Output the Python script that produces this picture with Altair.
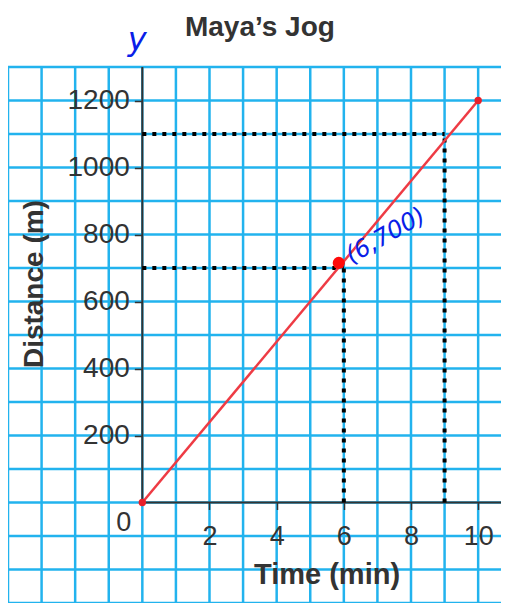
import altair as alt
import pandas as pd

# ---- data ----
time_min = [0, 10]
distance_m = [0, 1200]
mark_time = [5.85]
mark_dist = [715]
guide_h_x2 = [6, 9]
guide_h_y = [700, 1100]
grid_x = list(range(-4, 11))
grid_y = list(range(-300, 1400, 100))
x_ticks = [2, 4, 6, 8, 10]
y_ticks = [200, 400, 600, 800, 1000, 1200]

XDOM = [-4, 10.68]
YDOM = [-300, 1300]
W, H = 493, 536
PX_X = W / (XDOM[1] - XDOM[0])
PX_Y = H / (YDOM[1] - YDOM[0])
FONT = "Liberation Sans"
GRID = "#22b3ee"
INK = "#333333"

line_df = pd.DataFrame({"t": time_min, "d": distance_m})
mark_df = pd.DataFrame({"t": mark_time, "d": mark_dist})
gh = pd.DataFrame({"x": [0] * len(guide_h_x2), "x2": guide_h_x2, "y": guide_h_y})
gv = pd.DataFrame({"x": guide_h_x2, "y": [0] * len(guide_h_y), "y2": guide_h_y})
gx = pd.DataFrame({"v": grid_x})
gy = pd.DataFrame({"v": grid_y})

xs = alt.Scale(domain=XDOM, nice=False, zero=False)
ys = alt.Scale(domain=YDOM, nice=False, zero=False)

x_axis = alt.Axis(values=x_ticks, format="d", grid=False, domain=False, tickSize=7, tickColor=INK,
                  tickWidth=1.5, labelFont=FONT, labelFontSize=27, labelColor=INK,
                  labelPadding=14, title=None, offset=-(0 - YDOM[0]) * PX_Y, labelFlush=False,
                  orient="bottom", zindex=1)
y_axis = alt.Axis(values=y_ticks, format="d", grid=False, domain=False, tickSize=8, tickColor=INK,
                  tickWidth=1.5, labelFont=FONT, labelFontSize=28, labelColor=INK,
                  labelPadding=5, title=None, offset=-(0 - XDOM[0]) * PX_X, labelFlush=False,
                  orient="left", zindex=1)


def X(f):
    return alt.X(f, scale=xs, axis=x_axis, title=None)


def Y(f):
    return alt.Y(f, scale=ys, axis=y_axis, title=None)


grid_v = alt.Chart(gx).mark_rule(color=GRID, strokeWidth=2.5).encode(x=X("v:Q"))
grid_h = alt.Chart(gy).mark_rule(color=GRID, strokeWidth=2.5).encode(y=Y("v:Q"))

axis_lines = pd.DataFrame({"x": [0, 0], "x2": [0, XDOM[1]], "y": [0, 0], "y2": [YDOM[1], 0]})
axes = alt.Chart(axis_lines).mark_rule(color=INK, strokeWidth=2).encode(
    x=X("x:Q"), x2="x2:Q", y=Y("y:Q"), y2="y2:Q")

dots_h = alt.Chart(gh).mark_rule(color="black", strokeWidth=4, strokeDash=[4, 6], strokeCap="butt").encode(
    x=X("x:Q"), x2="x2:Q", y=Y("y:Q"))
dots_v = alt.Chart(gv).mark_rule(color="black", strokeWidth=4, strokeDash=[4, 6], strokeCap="butt").encode(
    x=X("x:Q"), y=Y("y:Q"), y2="y2:Q")

line = alt.Chart(line_df).mark_line(color="#ee3b44", strokeWidth=2.5).encode(x=X("t:Q"), y=Y("d:Q"))
ends = alt.Chart(line_df).mark_circle(color="#e8202a", opacity=1, size=55).encode(x=X("t:Q"), y=Y("d:Q"))
big = alt.Chart(mark_df).mark_circle(color="#ff0a0a", opacity=1, size=150).encode(x=X("t:Q"), y=Y("d:Q"))

# text labels (title and axis titles)
texts = pd.DataFrame({
    "label": ["0", "Time (min)", "Distance (m)", "Maya\u2019s Jog"],
    "x": [-0.55, 5.5, -3.2, 3.5],
    "y": [-61, -216, 652, 1416],
    "angle": [0, 0, 270, 0],
    "weight": ["normal", "bold", "bold", "bold"],
    "size": [27, 29, 28, 28],
})


def txt(i):
    r = texts.iloc[i]
    return alt.Chart(texts.iloc[[i]]).mark_text(
        font=FONT, fontSize=float(r["size"]), fontWeight=r["weight"], color=INK,
        angle=float(r["angle"]), align="center", baseline="middle").encode(
        x=X("x:Q"), y=Y("y:Q"), text="label:N")


notes = pd.DataFrame({"label": ["y", "(6,700)"], "x": [-0.15, 7.25], "y": [1380, 795]})
note_y = alt.Chart(notes.iloc[[0]]).mark_text(
    font="DejaVu Sans", fontSize=32, fontStyle="italic", color="#0a1ee8", align="center",
    baseline="middle").encode(x=X("x:Q"), y=Y("y:Q"), text="label:N")
note_p = alt.Chart(notes.iloc[[1]]).mark_text(
    font="DejaVu Sans", fontSize=24, fontStyle="italic", color="#0a1ee8", angle=330,
    align="center", baseline="middle").encode(x=X("x:Q"), y=Y("y:Q"), text="label:N")

chart = alt.layer(grid_v, grid_h, axes, dots_h, dots_v, line, ends, big,
                  txt(0), txt(1), txt(2), txt(3), note_y, note_p).properties(
    width=W, height=H,
    padding={"top": 59, "left": 0, "right": 0, "bottom": 0},
    autosize=alt.AutoSizeParams(type="none"),
).configure_view(stroke=None)

chart.save("out.html", embed_options={"renderer": "svg", "actions": False})
